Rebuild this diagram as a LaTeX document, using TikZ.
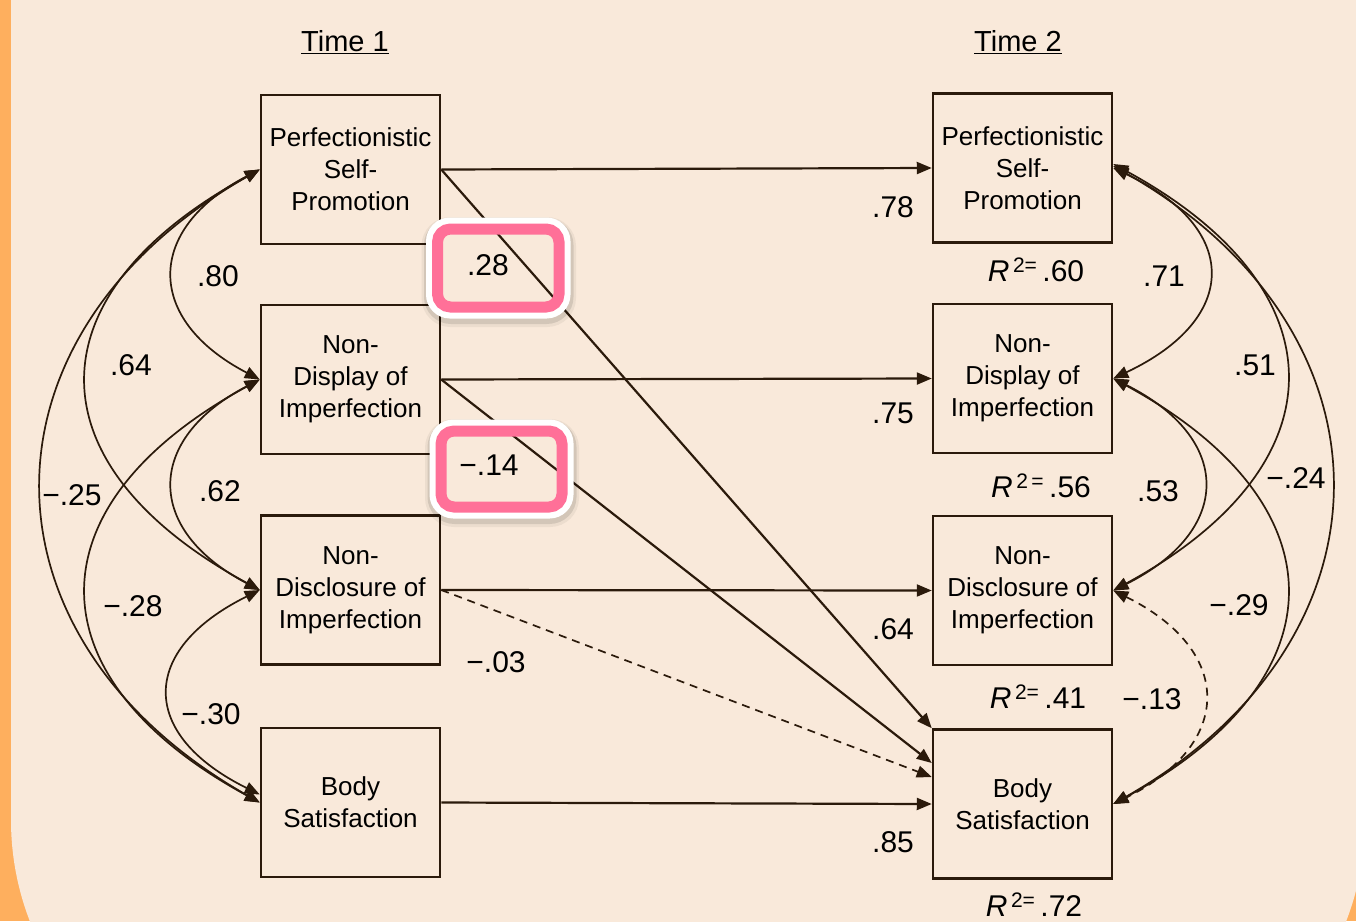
\documentclass[tikz,border=0pt]{standalone}
\usepackage{fontspec}
\setmainfont{Liberation Sans}
\usetikzlibrary{arrows.meta,calc}
\definecolor{bgpeach}{HTML}{F9E9DA}
\definecolor{bgorange}{HTML}{FEAF5E}
\definecolor{ink}{HTML}{2B1A0B}
\definecolor{hlpink}{HTML}{FF7098}
\newcommand\bxfont{\fontsize{26}{32}\selectfont}
\newcommand\lbfont{\fontsize{30}{36}\selectfont}
\begin{document}
\begin{tikzpicture}[x=1pt,y=-1pt,
  varbox/.style={draw=ink, line width=2.5pt, minimum width=179pt, minimum height=149pt,
    inner sep=0pt, align=center, font=\bxfont, text=black},
  pth/.style={draw=ink, line width=2.2pt, -{Triangle[length=15pt,width=12pt]}},
  cov/.style={draw=ink, line width=1.7pt, {Triangle[length=15pt,width=12pt]}-{Triangle[length=15pt,width=12pt]}},
  dsh/.style={dash pattern=on 8pt off 6pt},
  lab/.style={font=\lbfont, text=black, inner sep=0pt},
  hl/.style={draw=hlpink, line width=11pt, rounded corners=13pt, inner sep=0pt, outer sep=0pt},
  hlrim/.style={draw=white, line width=8pt, rounded corners=20pt, inner sep=0pt, outer sep=0pt},
  shadA/.style={draw=black, opacity=0.10, line width=6pt, rounded corners=24pt},
  shadB/.style={draw=black, opacity=0.05, line width=10pt, rounded corners=24pt},
  head/.style={font=\fontsize{29}{34}\selectfont, text=black, inner sep=0pt}
]
\useasboundingbox (0,0) rectangle (1356,921);
\begin{scope}
\clip (0,0) rectangle (1356,921);
\fill[bgorange] (0,0) rectangle (1356,921);
\fill[bgpeach, rounded corners=280pt] (11,-320) rectangle (1365,1100);
\end{scope}

% headings
\node[head] (t1) at (345,42) {\underline{Time 1}};
\node[head] (t2) at (1018,42) {\underline{Time 2}};

% boxes
\node[varbox] (L1) at (350.5,169.5) {Perfectionistic\\Self-\\Promotion};
\node[varbox] (L2) at (350.5,379.5) {Non-\\Display of\\Imperfection};
\node[varbox] (L3) at (350.5,590) {Non-\\Disclosure of\\Imperfection};
\node[varbox] (L4) at (350.5,802.5) {Body\\Satisfaction};
\node[varbox] (R1) at (1022.5,168) {Perfectionistic\\Self-\\Promotion};
\node[varbox] (R2) at (1022.5,378.5) {Non-\\Display of\\Imperfection};
\node[varbox] (R3) at (1022.5,590.5) {Non-\\Disclosure of\\Imperfection};
\node[varbox] (R4) at (1022.5,804) {Body\\Satisfaction};

% paths
\draw[pth] (L1.east) -- (R1.west);
\draw[pth] (L2.east) -- (R2.west);
\draw[pth] (L3.east) -- (R3.west);
\draw[pth] (L4.east) -- (R4.west);
\draw[pth] (L1.east) -- (R4.north west);
\draw[pth] (L2.east) -- ([yshift=41pt]R4.west);
\draw[pth,dsh,line width=1.7pt] (L3.east) -- ([yshift=27pt]R4.west);

% covariances time 1
\draw[cov] (L1.west) .. controls +(-115,60) and +(-115,-60) .. (L2.west);
\draw[cov] (L1.west) .. controls +(-230,125) and +(-230,-125) .. (L3.west);
\draw[cov] (L1.west) .. controls +(-290,165) and +(-290,-165) .. (L4.west);
\draw[cov] (L2.west) .. controls +(-115,60) and +(-115,-60) .. (L3.west);
\draw[cov] (L2.west) .. controls +(-230,125) and +(-230,-125) .. (L4.west);
\draw[cov] (L3.west) .. controls +(-121,60) and +(-121,-60) .. ([yshift=8pt]L4.west);

% covariances time 2
\draw[cov] (R1.east) .. controls +(127,60) and +(127,-60) .. (R2.east);
\draw[cov] ([yshift=4pt]R1.east) .. controls +(230,125) and +(230,-125) .. (R3.east);
\draw[cov] ([yshift=2pt]R1.east) .. controls +(290,165) and +(290,-165) .. (R4.east);
\draw[cov] (R2.east) .. controls +(120,60) and +(120,-60) .. (R3.east);
\draw[cov] (R2.east) .. controls +(230,125) and +(230,-125) .. (R4.east);
\draw[cov,dsh] (R3.east) .. controls +(121,60) and +(121,-60) .. (R4.east);

% highlights
\coordinate (h1c) at (498.25,268);
\coordinate (h2c) at (501.5,469);
\draw[shadB] ([shift={(-71.75pt,46pt)}]h1c) rectangle ([shift={(72.75pt,-54pt)}]h1c);
\draw[shadA] ([shift={(-71.25pt,47pt)}]h1c) rectangle ([shift={(72.25pt,-53pt)}]h1c);
\draw[shadB] ([shift={(-71.5pt,45pt)}]h2c) rectangle ([shift={(72.5pt,-53pt)}]h2c);
\draw[shadA] ([shift={(-71pt,46pt)}]h2c) rectangle ([shift={(72pt,-52pt)}]h2c);
\node[hlrim, minimum width=136.5pt, minimum height=93pt] (w1) at (h1c) {};
\node[hlrim, minimum width=136pt, minimum height=91pt] (w2) at (h2c) {};
\node[hl, minimum width=121.5pt, minimum height=78pt] (h1) at (h1c) {};
\node[hl, minimum width=121pt, minimum height=76pt] (h2) at (h2c) {};

% labels
\node[lab] (p1) at (893,207) {.78};
\node[lab] (p2) at (893,413) {.75};
\node[lab] (p3) at (893,629) {.64};
\node[lab] (p4) at (893,842) {.85};
\node[lab] (c1) at (488,265) {.28};
\node[lab] (c2) at (489,465) {−.14};
\node[lab] (c3) at (496,662) {−.03};

\node[lab] (a1) at (218,276) {.80};
\node[lab] (a2) at (131,365) {.64};
\node[lab] (a3) at (220,491) {.62};
\node[lab] (a4) at (72,495) {−.25};
\node[lab] (a5) at (133,606) {−.28};
\node[lab] (a6) at (211,714) {−.30};

\node[lab] (b1) at (1164,276) {.71};
\node[lab] (b2) at (1255,365) {.51};
\node[lab] (b3) at (1158,491) {.53};
\node[lab] (b4) at (1296,478) {−.24};
\node[lab] (b5) at (1239,605) {−.29};
\node[lab] (b6) at (1152,699) {−.13};

\node[lab] (r1) at (1036,270) {\textit{R}\textsuperscript{\,2=}\,.60};
\node[lab] (r2) at (1041,486) {\textit{R}\textsuperscript{\,2\,=}\,.56};
\node[lab] (r3) at (1038,697) {\textit{R}\textsuperscript{\,2=}\,.41};
\node[lab] (r4) at (1034,905) {\textit{R}\textsuperscript{\,2=}\,.72};
\end{tikzpicture}
\end{document}
